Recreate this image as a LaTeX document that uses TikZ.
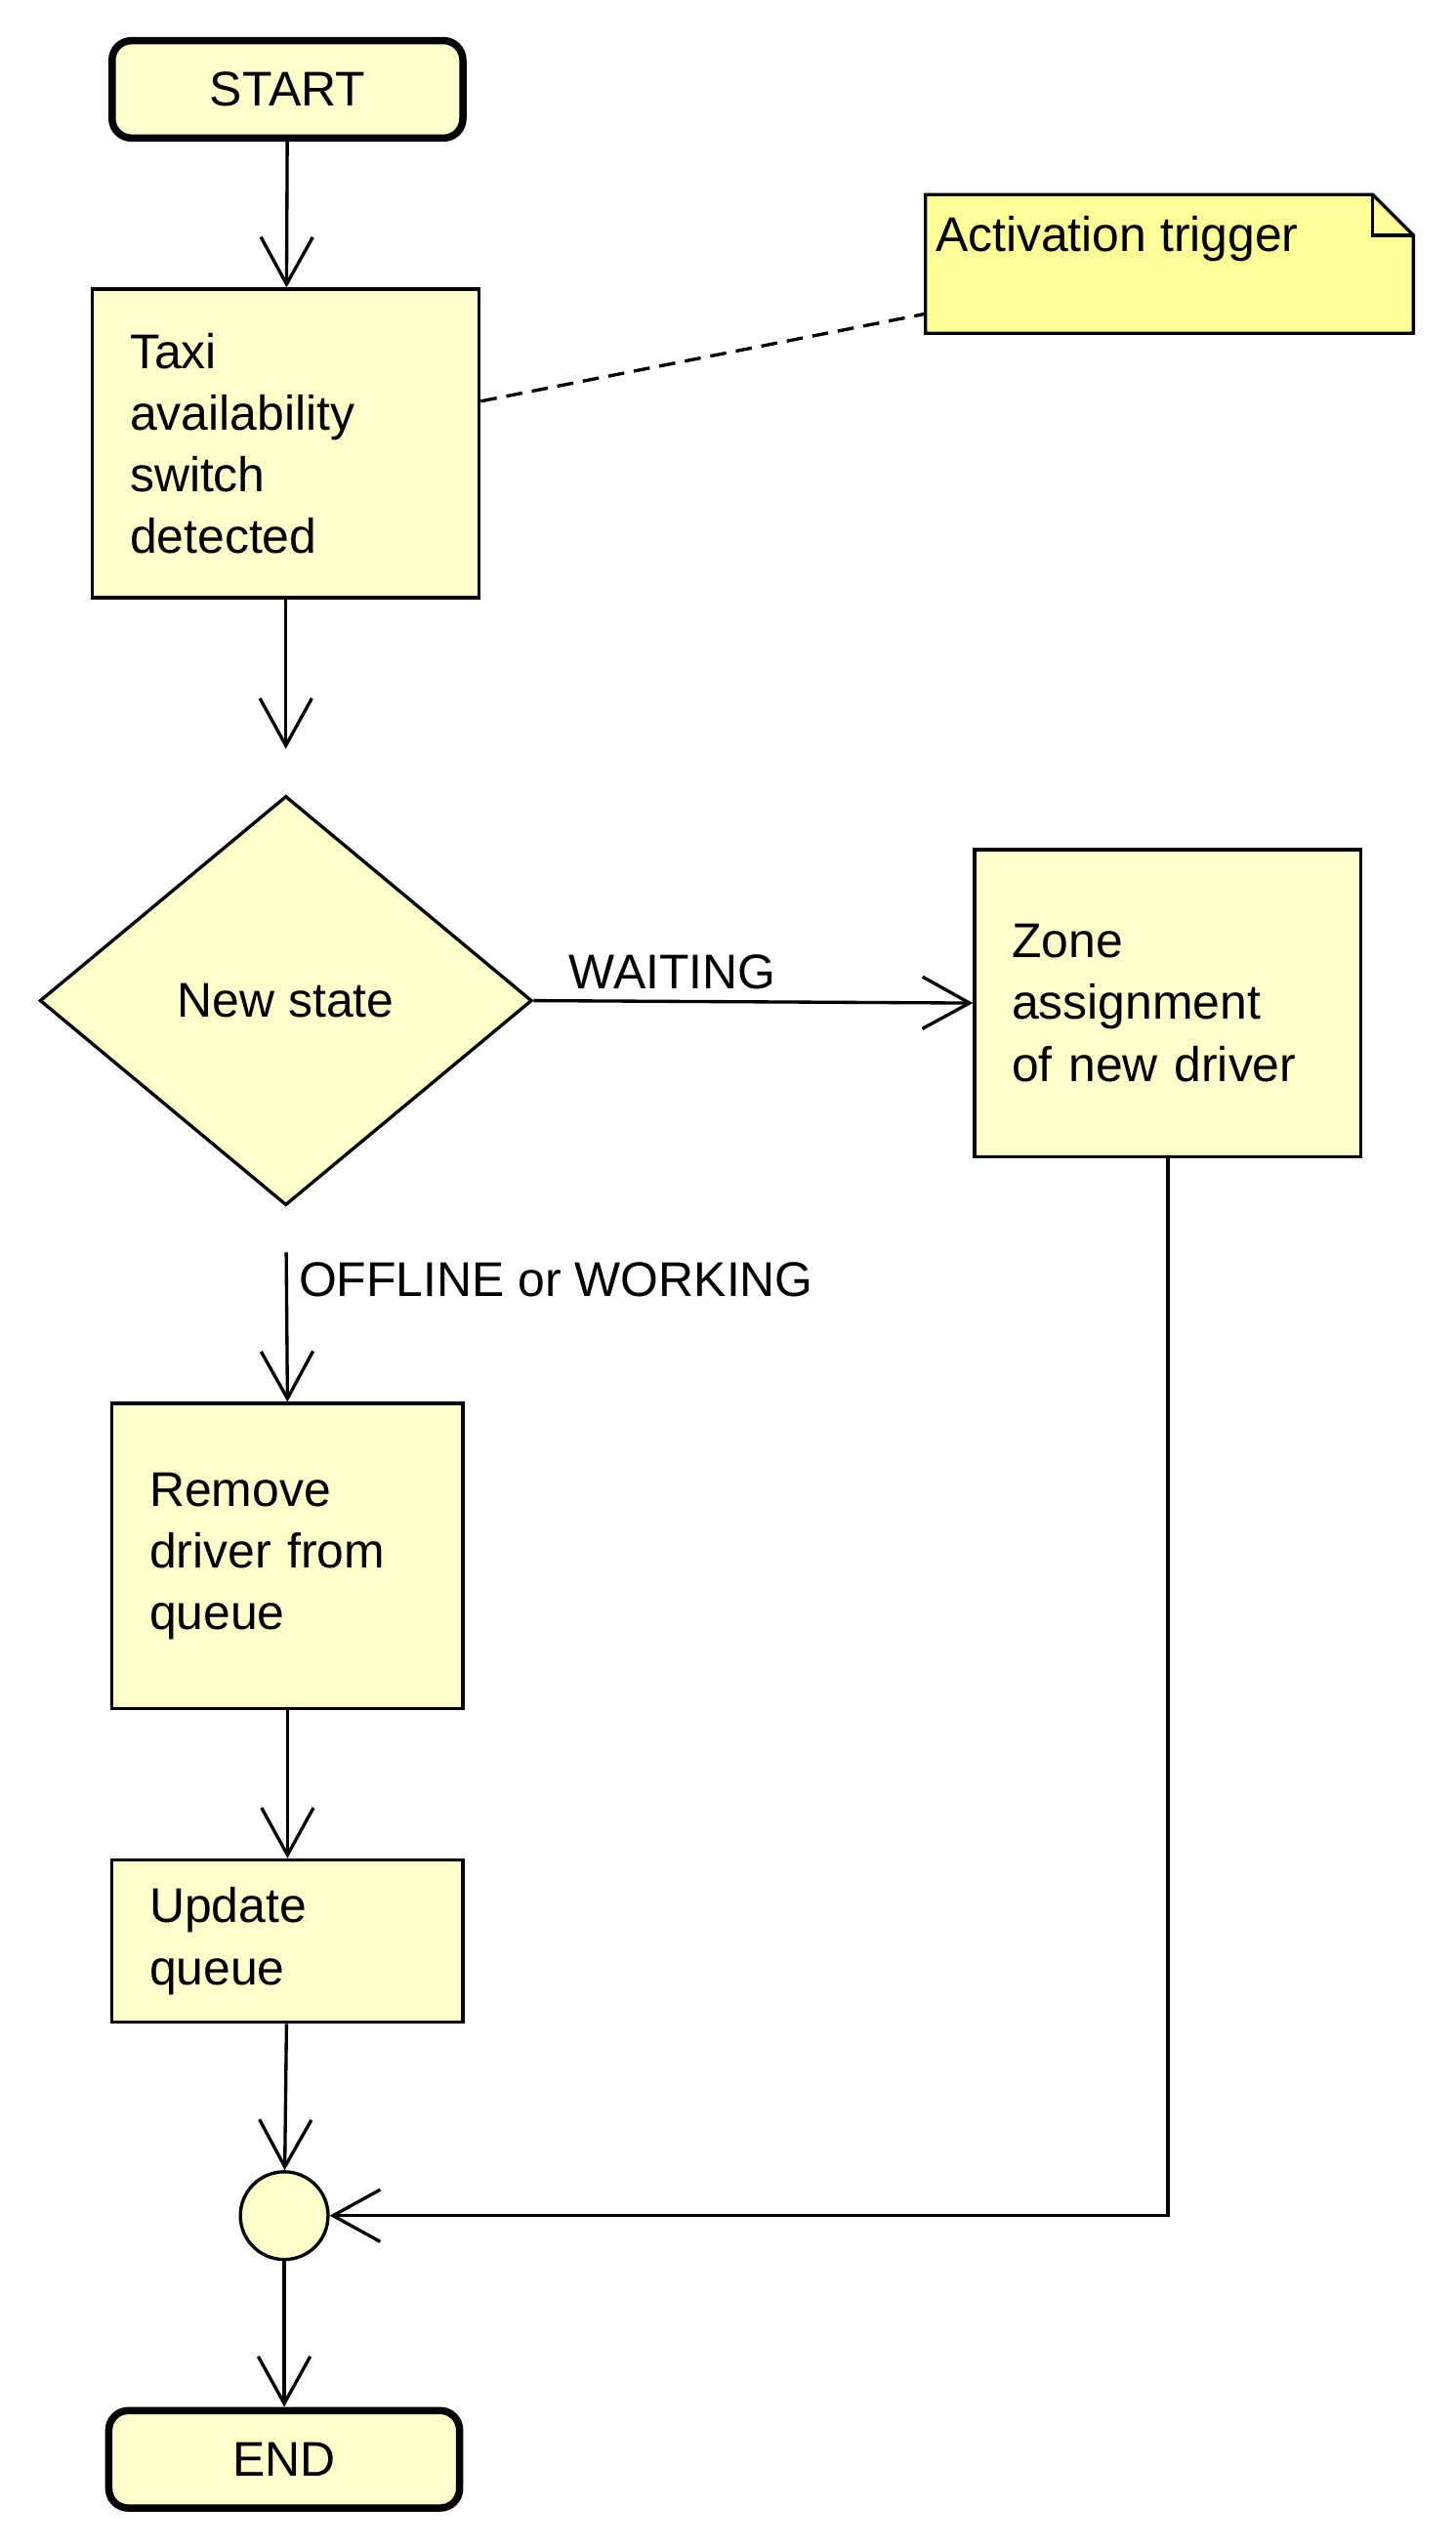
\documentclass[tikz,border=0pt]{standalone}
\usepackage{fontspec}
\setmainfont{Liberation Sans}
\usetikzlibrary{shapes.geometric,arrows.meta}
\definecolor{boxfill}{HTML}{FFFFCC}
\definecolor{notefill}{HTML}{FFFF99}
\tikzset{
 action/.style={draw, line width=2pt, fill=boxfill, align=left, inner xsep=23pt, inner ysep=0pt},
 terminal/.style={draw, line width=4.5pt, fill=boxfill, rounded corners=12pt, minimum width=216pt, minimum height=60pt, inner sep=0pt},
 flow/.style={line width=2pt, -{Straight Barb[length=29pt,width=32pt]}},
 anchorline/.style={line width=2pt, dash pattern=on 10pt off 6pt},
 notebox/.style={minimum width=300pt, minimum height=85pt, inner sep=0pt},
}
\begin{document}
\begin{tikzpicture}[x=1pt,y=-1pt, font=\fontsize{30}{38}\selectfont]
\useasboundingbox (0,0) rectangle (896,1568);

 \node[terminal] at (177,55) (start) {START};
 \node[action, minimum width=238pt, text width=192pt, minimum height=190pt] at (176,273) (taxi) {Taxi\\availability\\switch\\detected};
 \node[diamond, draw, line width=2pt, fill=boxfill, minimum width=303pt, minimum height=252pt, inner sep=0pt] at (176,616) (state) {New state};
 \node[action, minimum width=238pt, text width=192pt, minimum height=189pt] at (719,617.5) (zone) {Zone\\assignment\\of new driver};
 \node[action, minimum width=216pt, text width=170pt, minimum height=188pt] at (177,958) (remove) {Remove\\driver from\\queue};
 \node[action, minimum width=216pt, text width=170pt, minimum height=100pt] at (177,1195) (update) {Update\\queue};
 \node[circle, draw, line width=2pt, fill=boxfill, minimum size=54pt, inner sep=0pt] at (175,1364) (merge) {};
 \node[terminal] at (175,1514) (end) {END};

 \node[notebox] at (720,162.5) (trigger) {};
\filldraw[line width=2pt, fill=notefill] (trigger.north west) -- ([xshift=-25pt]trigger.north east) -- ([yshift=-25pt]trigger.north east) -- (trigger.south east) -- (trigger.south west) -- cycle;
 \draw[line width=2pt] ([xshift=-25pt]trigger.north east) |- ([yshift=-25pt]trigger.north east);
 \node[anchor=north west, inner sep=0pt] at ([xshift=6pt,yshift=-13pt]trigger.north west) (triggertext) {Activation trigger};

 \draw[anchorline] ([yshift=26pt]taxi.east) -- ([yshift=12pt]trigger.south west);

 \draw[flow] (start) -- (taxi);
 \draw[flow, shorten >=28pt] (taxi) -- (state);
 \draw[flow] (state.east) -- (zone.west) node[pos=0, anchor=base west, inner sep=0pt, xshift=21pt, yshift=7pt] {WAITING};
 \draw[flow, shorten <=28pt] (state.south) -- (remove.north) node[pos=0, anchor=base west, inner sep=0pt, xshift=7pt, yshift=-55pt] {OFFLINE or WORKING};
 \draw[flow] (remove) -- (update);
 \draw[flow] (update) -- (merge);
 \draw[flow] (zone.south) |- (merge.east);
 \draw[flow] (merge) -- (end);

\end{tikzpicture}
\end{document}
